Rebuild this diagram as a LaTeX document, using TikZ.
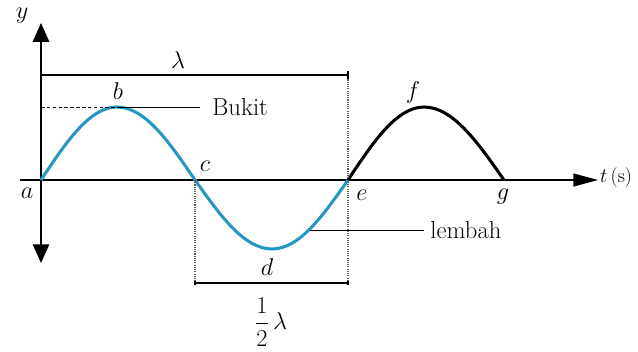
\documentclass[tikz,border=0pt]{standalone}
\usepackage{amsmath}
\usetikzlibrary{arrows.meta}

\definecolor{wavecol}{RGB}{38,150,194}

\begin{document}
\begin{tikzpicture}[
    x=0.03cm, y=-0.03cm,
    lbl/.style={
        font=\fontsize{21}{24}\selectfont,
        inner sep=1pt
    },
    axis/.style={
        line width=1.3pt
    },
    dimline/.style={
        line width=1.1pt
    },
    guide/.style={
        line width=0.9pt,
        densely dotted,
        gray!70!black
    },
    wave/.style={
        line width=2.6pt
    }
]

\useasboundingbox (0,0) rectangle (638,351);

% wave points
\coordinate (a) at (41,180);
\coordinate (b) at (117,107);
\coordinate (c) at (195,180);
\coordinate (d) at (272,249);
\coordinate (e) at (348,180);
\coordinate (f) at (424,107);
\coordinate (g) at (504,180);

% axes
\coordinate (xstart) at (20,180);
\coordinate (xend) at (598,180);
\coordinate (ytop) at (41,23);
\coordinate (ybot) at (41,263);
\draw[axis, -{Triangle[length=21pt,width=11pt]}] (xstart) -- (xend);
\draw[axis, -{Triangle[length=16pt,width=14pt]}] (a) -- (ytop);
\draw[axis, -{Triangle[length=16pt,width=14pt]}] (a) -- (ybot);

% wave
\draw[wave, wavecol] (a) sin (b) cos (c) sin (d) cos (e);
\draw[wave, black] (e) sin (f) cos (g);

% wavelength bars
\coordinate (lamL) at (41,75);
\coordinate (lamR) at (348,75);
\coordinate (halfL) at (195,283);
\coordinate (halfR) at (348,283);
\draw[dimline] (lamL) -- (lamR);
\draw[dimline] (halfL) -- (halfR);
\draw[guide] (lamR) -- (halfR);
\draw[guide] (c) -- (halfL);
\draw[dimline] ([yshift=-3pt]lamR) -- ([yshift=3pt]lamR);
\draw[dimline] ([yshift=-2pt]halfL) -- ([yshift=2pt]halfL);
\draw[dimline] ([yshift=-2pt]halfR) -- ([yshift=2pt]halfR);

% crest and trough labels
\coordinate (bukitL) at (41,107);
\coordinate (bukitR) at (200,107);
\coordinate (lembahL) at (310,230);
\coordinate (lembahR) at (424,230);
\draw[line width=0.8pt, densely dashed] (bukitL) -- (b);
\draw[line width=0.8pt] (b) -- (bukitR);
\draw[line width=0.8pt] (lembahL) -- (lembahR);

\node[lbl, anchor=west] (bukit) at (211,107) {Bukit};
\node[lbl, anchor=west] (lembah) at (429,230) {lembah};

\node[lbl] (lam) at (178,60) {$\lambda$};
\node[lbl] (half) at (271,322) {$\dfrac{1}{2}\,\lambda$};

\node[lbl] (ylab) at (22,16) {$y$};
\node[lbl, font=\fontsize{17}{20}\selectfont, anchor=west, inner sep=0pt] (tlab) at (600,178) {$t$\,(s)};

\node[lbl] (alab) at (27,193) {$a$};
\node[lbl] (blab) at (118,91) {$b$};
\node[lbl] (clab) at (205,166) {$c$};
\node[lbl] (dlab) at (267,267) {$d$};
\node[lbl] (elab) at (362,195) {$e$};
\node[lbl] (flab) at (413,92) {$f$};
\node[lbl] (glab) at (503,197) {$g$};

\end{tikzpicture}
\end{document}
